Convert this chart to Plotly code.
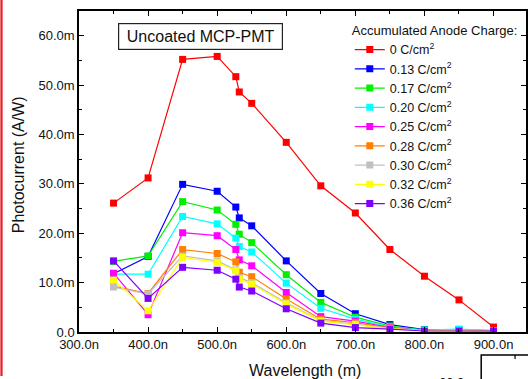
import plotly.graph_objects as go

# ---------------- data ----------------
wavelength_nm = [350, 400, 450, 500, 527, 532, 550, 600, 650, 700, 750, 800, 850, 900]

series_names = [
    "0 C/cm<sup>2</sup>", "0.13 C/cm<sup>2</sup>", "0.17 C/cm<sup>2</sup>",
    "0.20 C/cm<sup>2</sup>", "0.25 C/cm<sup>2</sup>", "0.28 C/cm<sup>2</sup>",
    "0.30 C/cm<sup>2</sup>", "0.32 C/cm<sup>2</sup>", "0.36 C/cm<sup>2</sup>",
]

# photocurrent in mA/W (axis labels carry the "m" prefix)
charge_0_00 = [26.1, 31.2, 55.2, 55.8, 51.7, 48.6, 46.3, 38.4, 29.6, 24.1, 16.7, 11.3, 6.5, 1.0]
charge_0_13 = [11.8, 15.3, 29.9, 28.5, 25.3, 23.1, 21.5, 14.4, 7.8, 3.7, 1.5, 0.5, 0.4, 0.3]
charge_0_17 = [14.3, 15.4, 26.4, 24.7, 21.8, 19.8, 18.1, 11.6, 6.0, 3.0, 1.2, 0.4, 0.4, 0.3]
charge_0_20 = [11.7, 11.7, 23.4, 21.9, 19.0, 17.3, 16.2, 9.9, 4.8, 2.6, 1.0, 0.4, 0.6, 0.3]
charge_0_25 = [11.9, 3.5, 20.1, 19.5, 16.7, 14.6, 13.4, 8.0, 3.1, 2.2, 0.9, 0.3, 0.3, 0.2]
charge_0_28 = [9.3, 7.8, 16.7, 15.9, 14.2, 12.1, 11.2, 6.7, 2.6, 1.9, 0.8, 0.3, 0.3, 0.2]
charge_0_30 = [9.1, 7.7, 15.4, 14.4, 12.6, 11.0, 10.0, 5.9, 2.3, 1.6, 0.7, 0.3, 0.2, 0.2]
charge_0_32 = [10.5, 4.3, 15.1, 14.1, 12.4, 10.7, 9.7, 5.7, 2.2, 1.5, 0.7, 0.3, 0.2, 0.2]
charge_0_36 = [14.4, 6.8, 13.1, 12.5, 10.7, 9.1, 8.3, 4.7, 1.8, 0.9, 0.6, 0.2, 0.2, 0.2]

series_values = [charge_0_00, charge_0_13, charge_0_17, charge_0_20, charge_0_25,
                 charge_0_28, charge_0_30, charge_0_32, charge_0_36]

series_colors = ["#FF0000", "#0000FF", "#00F000", "#00FFFF", "#FF00FF",
                 "#FF8000", "#C0C0C0", "#FFFF00", "#8000FF"]

x_tick_vals = [300, 400, 500, 600, 700, 800, 900]
x_tick_text = ["300.0n", "400.0n", "500.0n", "600.0n", "700.0n", "800.0n", "900.0n"]
y_tick_vals = [0, 10, 20, 30, 40, 50, 60]
y_tick_text = ["0.0", "10.0m", "20.0m", "30.0m", "40.0m", "50.0m", "60.0m"]

# ---------------- figure ----------------
W, H = 528, 379
ML, MR, MT, MB = 79, 0, 11, 47
PW, PH = W - ML - MR, H - MT - MB


def px(x):
    return (x - ML) / PW


def py(y):
    return (H - MB - y) / PH


fig = go.Figure()
for name, vals, col in zip(series_names, series_values, series_colors):
    fig.add_trace(go.Scatter(
        x=wavelength_nm, y=vals, name=name, mode="lines+markers",
        line=dict(color=col, width=1.2),
        marker=dict(symbol="square", size=7, color=col, line=dict(width=0)),
    ))

axis_common = dict(
    showline=True, linecolor="black", linewidth=1.5, mirror="ticks",
    ticks="inside", ticklen=5, tickwidth=1.2, tickcolor="black",
    showgrid=False, zeroline=False,
    tickfont=dict(family="Arial, Liberation Sans", size=13, color="#111111"),
)

fig.update_xaxes(
    range=[300, 947], tickmode="array", tickvals=x_tick_vals, ticktext=x_tick_text,
    minor=dict(ticks="inside", ticklen=3, tickwidth=1, tickcolor="black",
               tickmode="linear", tick0=300, dtick=50),
    **axis_common,
)
fig.update_yaxes(
    range=[0, 65], tickmode="array", tickvals=y_tick_vals, ticktext=y_tick_text,
    minor=dict(ticks="inside", ticklen=3, tickwidth=1, tickcolor="black",
               tickmode="linear", tick0=0, dtick=5),
    **axis_common,
)

fig.update_layout(
    width=W, height=H,
    margin=dict(l=ML, r=MR, t=MT, b=MB, pad=0),
    paper_bgcolor="white", plot_bgcolor="white",
    font=dict(family="Arial, Liberation Sans", color="#111111"),
    showlegend=True,
    legend=dict(
        x=px(351), y=py(18), xanchor="left", yanchor="top",
        bgcolor="rgba(0,0,0,0)", borderwidth=0,
        font=dict(family="Arial, Liberation Sans", size=12.5, color="#111111"),
        title=dict(text="Accumulated Anode Charge:",
                   font=dict(family="Arial, Liberation Sans", size=13, color="#111111")),
        itemwidth=30, tracegroupgap=0,
    ),
)

annotations = [
    dict(text="Photocurrent (A/W)", x=px(18), y=py(165), xref="paper", yref="paper",
         textangle=-90, showarrow=False, xanchor="center", yanchor="middle",
         font=dict(family="Arial, Liberation Sans", size=16, color="#111111")),
    dict(text="Wavelength (m)", x=px(306), y=py(370), xref="paper", yref="paper",
         showarrow=False, xanchor="center", yanchor="middle",
         font=dict(family="Arial, Liberation Sans", size=16, color="#111111")),
    dict(text="Uncoated MCP-PMT", x=px(201.5), y=py(36.5), xref="paper", yref="paper",
         showarrow=False, xanchor="center", yanchor="middle",
         width=163, height=25, borderpad=0, bordercolor="#222222", borderwidth=1.2,
         bgcolor="white",
         font=dict(family="Arial, Liberation Sans", size=16, color="#111111")),
    dict(text="60.0m", x=px(479), y=py(382), xref="paper", yref="paper",
         showarrow=False, xanchor="right", yanchor="middle",
         font=dict(family="Arial, Liberation Sans", size=13, color="#111111")),
]
fig.update_layout(annotations=annotations)

shapes = [
    # red bar at the left edge of the screenshot
    dict(type="rect", xref="paper", yref="paper", x0=px(0), x1=px(2.3), y0=py(376), y1=py(0),
         fillcolor="#E8232B", line=dict(width=0), layer="above"),
    # partial neighbouring chart frame at bottom right
    dict(type="rect", xref="paper", yref="paper", x0=px(483), x1=px(560), y0=py(420), y1=py(355),
         fillcolor="rgba(0,0,0,0)", line=dict(color="black", width=1.5), layer="above"),
    dict(type="line", xref="paper", yref="paper", x0=px(517), x1=px(517), y0=py(355), y1=py(359),
         line=dict(color="black", width=1.2), layer="above"),
]
fig.update_layout(shapes=shapes)

fig.write_html(
    "out.html",
    config={"displayModeBar": False},
    post_script="document.body.style.margin='0';document.body.style.overflow='hidden';",
)
